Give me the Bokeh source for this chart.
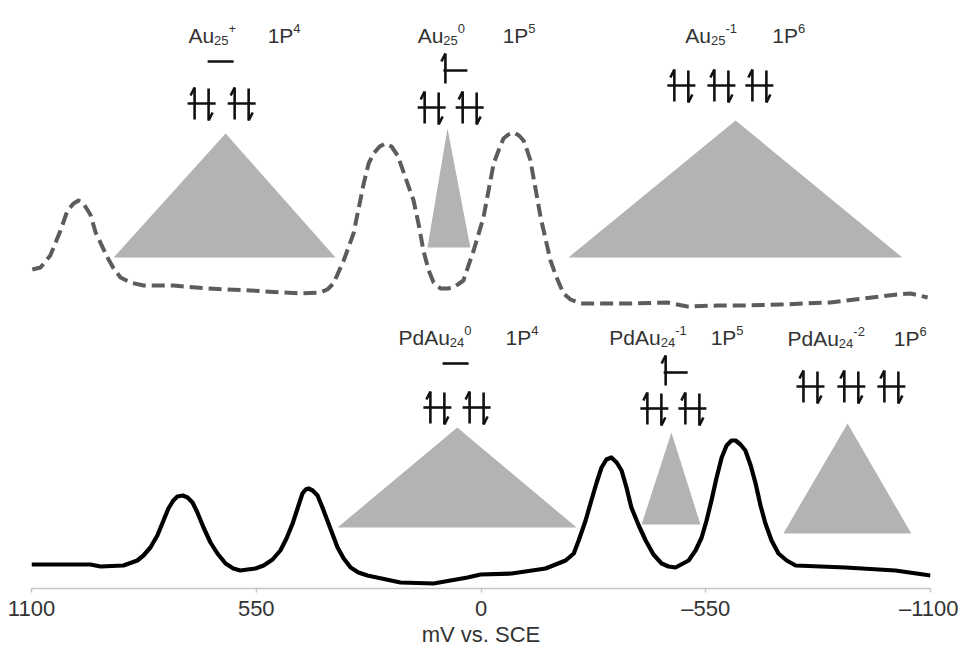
import numpy as np
from bokeh.plotting import figure
from bokeh.models import Range1d, ColumnDataSource, FixedTicker
from bokeh.core.properties import value
from bokeh.embed import file_html
from bokeh.resources import INLINE

# ---------------- data (potential in mV vs. SCE, current in arbitrary units) -------------
au25_mv = [1098, 1078, 1054, 1029, 1012, 997, 985, 973, 956, 943, 914, 899, 882, 858, 826,
           752, 669, 564, 442, 393, 376, 361, 336, 312, 287, 275, 263, 248, 234, 219, 204,
           185, 165, 151, 141, 128, 116, 99, 82, 67, 43, 29, 18, -6, -31, -43, -55, -67,
           -80, -93, -104, -113, -121, -146, -170, -185, -202, -219, -244, -305, -366, -456,
           -505, -580, -652, -733, -855, -936, -1019, -1051, -1093]
au25_i = [319, 321, 333, 358, 378, 385, 388, 385, 374, 356, 331, 320, 311, 306, 303,
          303, 300, 298, 295, 296, 299, 305, 328, 355, 405, 425, 435, 442, 445, 442, 433,
          411, 388, 361, 338, 318, 306, 300, 300, 301, 308, 325, 338, 371, 425, 438, 450, 454,
          456, 453, 448, 438, 428, 371, 328, 311, 295, 289, 285, 285, 285, 286,
          282, 283, 283, 284, 286, 290, 294, 295, 291]

pdau24_mv = [1100, 1029, 956, 931, 875, 841, 826, 809, 792, 777, 765, 753, 743, 730, 718,
             706, 694, 679, 662, 645, 625, 606, 589, 571, 552, 532, 510, 491, 476, 461, 449,
             437, 429, 422, 412, 400, 388, 376, 351, 336, 319, 300, 278, 197, 116, 33, 1,
             -75, -158, -207, -227, -239, -256, -270, -283, -295, -307, -319, -332, -344,
             -356, -368, -386, -403, -422, -442, -459, -476, -508, -525, -540, -552, -564,
             -576, -589, -601, -613, -623, -635, -647, -660, -672, -684, -696, -711, -728,
             -748, -770, -892, -1014, -1100]
pdau24_i = [24, 24, 24, 22, 23, 28, 33, 41, 53, 68, 80, 88, 92, 93, 91,
            86, 76, 61, 46, 35, 25, 20, 18, 19, 20, 23, 29, 38, 50, 65, 80,
            95, 99, 100, 98, 93, 81, 68, 41, 30, 21, 16, 13, 6, 5, 11, 14,
            15, 20, 28, 35, 48, 68, 88, 106, 121, 129, 131, 126, 118,
            101, 81, 63, 48, 34, 25, 22, 21, 28, 38, 51, 68, 88,
            110, 131, 143, 148, 148, 144, 138, 123, 105, 83, 65, 48, 35,
            28, 23, 21, 18, 13]

# potential windows (triangles): left foot, apex, right foot, base level, apex level
tri_left = [899, 131, -214, 351, -393, -740]
tri_apex = [625, 82, -623, 58, -466, -897]
tri_right = [356, 26, -1031, -234, -537, -1053]
tri_base = [331, 341, 331, 61, 64, 55]
tri_top = [455, 460, 468, 161, 156, 165]

tick_values = [1100, 550, 0, -550, -1100]
tick_labels = ["1100", "550", "0", "\u2013550", "\u20131100"]

# species labels: name, subscript, charge, configuration digit
species_name = ["Au", "Au", "Au", "PdAu", "PdAu", "PdAu"]
species_sub = ["25", "25", "25", "24", "24", "24"]
species_charge = ["+", "0", "-1", "0", "-1", "-2"]
species_p = ["4", "5", "6", "4", "5", "6"]
# annotation placement (mV, level) of the name and of the "1P" text
lab_x = [716, 155, -500, 202, -314, -750]
lab_p_x = [522, -53, -713, -60, -562, -1010]
lab_y = [553, 553, 553, 251, 251, 250]

# orbital occupation diagrams: (upper level orbitals, lower level orbitals)
orb_x = [[669], [718, 620], [92], [155, 62], [-456, -554, -647],
         [94], [141, 45], [-447], [-390, -483], [-772, -872, -970]]
orb_y = [527, 485, 518, 481, 503, 225, 181, 216, 180, 202]
orb_occ = [0, 2, 1, 2, 2, 0, 2, 1, 2, 2]

# ---------------- figure -----------------
X_START, X_END = 1100, -1100
FRAME_W = 899
MV_PER_PX = (X_START - X_END) / FRAME_W


def right(px):
    """screen pixels to the right -> mV offset (axis is reversed)"""
    return -px * MV_PER_PX


p = figure(width=958, height=650, x_range=Range1d(X_START, X_END), y_range=Range1d(0, 588),
           output_backend="svg", toolbar_location=None, y_axis_location=None,
           min_border_left=31, min_border_right=28, min_border_top=0, min_border_bottom=62)
p.outline_line_color = None
p.xgrid.grid_line_color = None
p.ygrid.grid_line_color = None

FONT = value("Liberation Sans")

# triangles
xs = [[l, a, r] for l, a, r in zip(tri_left, tri_apex, tri_right)]
ys = [[b, t, b] for b, t in zip(tri_base, tri_top)]
p.patches(xs, ys, fill_color="#b3b3b3", line_color=None)

# curves
p.line(au25_mv, au25_i, line_color="#5c5c5c", line_width=4, line_dash="13 6",
       line_join="round")
p.line(pdau24_mv, pdau24_i, line_color="#000000", line_width=4.2, line_join="round")

# orbital diagrams
x0, y0, x1, y1 = [], [], [], []


def seg(a, b, c, d):
    x0.append(a); y0.append(b); x1.append(c); y1.append(d)


for lefts, yy, occ in zip(orb_x, orb_y, orb_occ):
    for L in lefts:
        if occ == 0:
            seg(L, yy, L + right(26), yy)
        elif occ == 1:
            xs_ = L + right(2)
            seg(L, yy, L + right(24), yy)
            seg(xs_, yy - 13, xs_, yy + 17)
            seg(xs_, yy + 17, xs_ + right(-4), yy + 9)
        else:
            seg(L, yy, L + right(28), yy)
            xu = L + right(7)
            xd = L + right(21)
            seg(xu, yy - 16, xu, yy + 16)
            seg(xu, yy + 16, xu + right(-4), yy + 8)
            seg(xd, yy + 15, xd, yy - 17)
            seg(xd, yy - 17, xd + right(4), yy - 9)
p.segment(x0, y0, x1, y1, line_color="#111111", line_width=2.6)

# species labels built from pieces (main text, subscript, superscript)
MAIN, SMALL = 21, 13
W = {"A": .667, "u": .556, "P": .667, "d": .556, "1": .556, "2": .556, "4": .556,
     "5": .556, "0": .556, "6": .556, "+": .584, "-": .333}


def width(s, size):
    return sum(W[c] for c in s) * size


big = dict(x=[], y=[], text=[])
small = dict(x=[], y=[], text=[])
for name, sub, chg, pn, lx, px_, ly in zip(species_name, species_sub, species_charge,
                                           species_p, lab_x, lab_p_x, lab_y):
    big["x"].append(lx); big["y"].append(ly); big["text"].append(name)
    xs_sub = lx + right(width(name, MAIN))
    small["x"].append(xs_sub); small["y"].append(ly - 5); small["text"].append(sub)
    xs_sup = xs_sub + right(width(sub, SMALL))
    small["x"].append(xs_sup); small["y"].append(ly + 7); small["text"].append(chg)
    big["x"].append(px_); big["y"].append(ly); big["text"].append("1P")
    small["x"].append(px_ + right(width("1P", MAIN))); small["y"].append(ly + 7)
    small["text"].append(pn)

p.text("x", "y", "text", source=ColumnDataSource(big), text_font=FONT,
       text_font_size=f"{MAIN}px", text_color="#333333", text_baseline="alphabetic",
       text_align="left")
p.text("x", "y", "text", source=ColumnDataSource(small), text_font=FONT,
       text_font_size=f"{SMALL}px", text_color="#333333", text_baseline="alphabetic",
       text_align="left")

# axis
ax = p.xaxis[0]
ax.ticker = FixedTicker(ticks=tick_values)
ax.major_label_overrides = {v: t for v, t in zip(tick_values, tick_labels)}
ax.minor_tick_line_color = None
ax.axis_line_color = "#c4c4c4"
ax.axis_line_width = 1.5
ax.major_tick_line_color = "#c4c4c4"
ax.major_tick_line_width = 1.5
ax.major_tick_in = 0
ax.major_tick_out = 4
ax.major_label_standoff = 3
ax.major_label_text_font = "Liberation Sans"
ax.major_label_text_font_size = "22px"
ax.major_label_text_color = "#333333"
ax.axis_label = "mV vs. SCE"
ax.axis_label_text_font = "Liberation Sans"
ax.axis_label_text_font_size = "22px"
ax.axis_label_text_font_style = "normal"
ax.axis_label_text_color = "#333333"
ax.axis_label_standoff = -2

open("out.html", "w").write(file_html(p, INLINE))
